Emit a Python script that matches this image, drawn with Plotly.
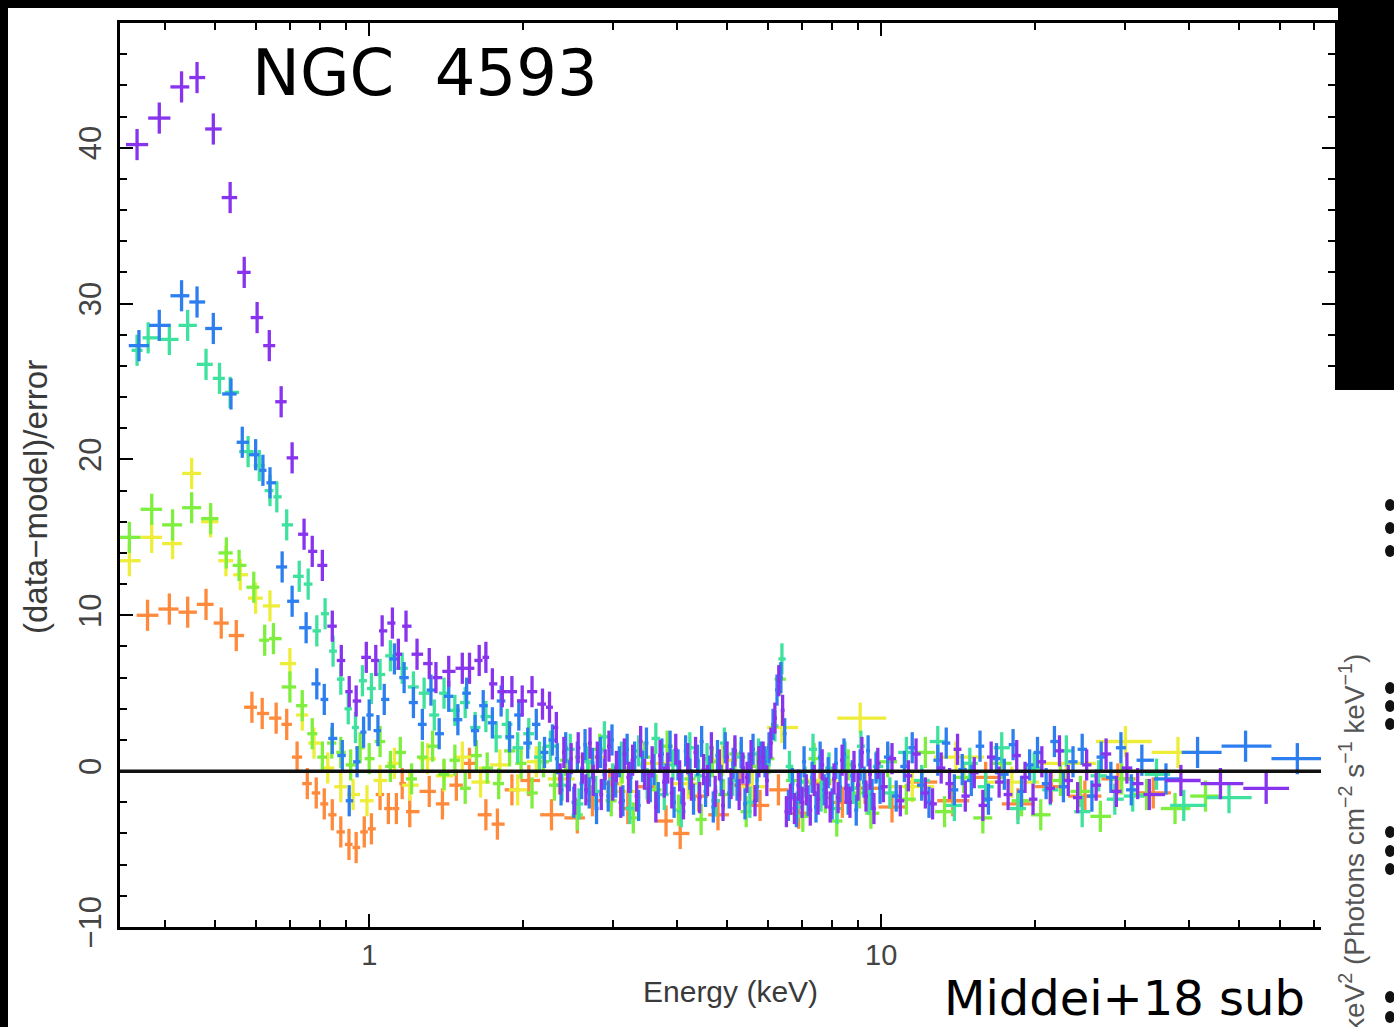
import numpy as np
import plotly.graph_objects as go

# ---------------- data: (data-model)/error residuals vs energy (keV) ----------------
purple_E = [0.352, 0.389, 0.430, 0.461, 0.496, 0.535, 0.570, 0.604, 0.638, 0.673,
            0.707, 0.746, 0.774, 0.810, 0.847, 0.882, 0.914, 0.943, 0.987, 1.03,
            1.06, 1.11, 1.14, 1.18, 1.24, 1.31, 1.35, 1.43, 1.52, 1.57,
            1.64, 1.69, 1.74, 1.82, 1.90, 1.99, 2.08, 2.18, 2.25, 2.32,
            2.36, 2.40, 2.44, 2.48, 2.52, 2.56, 2.61, 2.65, 2.70, 2.74,
            2.79, 2.84, 2.89, 2.94, 2.99, 3.04, 3.10, 3.15, 3.21, 3.27,
            3.33, 3.39, 3.45, 3.51, 3.57, 3.63, 3.70, 3.77, 3.83, 3.90,
            3.97, 4.04, 4.11, 4.19, 4.26, 4.34, 4.42, 4.50, 4.58, 4.66,
            4.74, 4.83, 4.91, 5.00, 5.09, 5.18, 5.28, 5.37, 5.47, 5.57,
            5.67, 5.77, 5.88, 5.98, 6.09, 6.20, 6.31, 6.42, 6.53, 6.65,
            6.77, 6.89, 7.01, 7.14, 7.27, 7.40, 7.53, 7.67, 7.81, 7.95,
            8.09, 8.24, 8.39, 8.54, 8.69, 8.85, 9.01, 9.17, 9.34, 9.51,
            9.68, 9.85, 10.1, 10.5, 10.9, 11.3, 11.7, 12.2, 12.6, 13.1,
            13.6, 14.1, 14.6, 15.2, 15.8, 16.4, 17.0, 17.7, 18.4, 19.1,
            19.8, 20.6, 21.4, 22.3, 23.2, 24.2, 25.2, 26.3, 27.5, 28.8,
            30.2, 31.7, 33.4, 38.5, 46.0, 56.5]
purple_R = [40.2, 41.9, 43.9, 44.5, 41.2, 36.8, 32.0, 29.1, 27.3, 23.7,
            20.1, 15.2, 14.1, 13.2, 9.3, 7.1, 5.1, 4.5, 7.3, 7.1,
            9.0, 9.5, 7.5, 9.3, 7.5, 6.9, 6.0, 6.4, 6.6, 6.6,
            7.1, 7.3, 5.6, 5.1, 5.1, 4.5, 5.1, 4.3, 4.1, 2.8,
            -0.5, 1.2, -1.0, 0.8, -1.8, 1.5, 0.2, -1.2, 1.8, -0.6,
            0.9, -1.5, 0.4, 1.6, -0.9, 0.3, -2.0, 1.1, -0.4, 0.7,
            -1.6, 1.9, -0.2, -1.1, 0.6, -2.3, 1.0, -0.7, 0.2, -1.4,
            1.4, -0.3, -2.1, 0.8, -0.9, 1.2, -1.7, 0.1, -0.6, 1.5,
            -1.3, 0.4, -2.2, 0.9, -0.8, 1.3, -1.5, 0.2, -0.4, 1.0,
            -1.9, 0.6, 0.9, -0.6, 1.8, 3.4, 5.8, 3.9, -2.6, -1.8,
            -2.4, -0.9, -2.0, -1.2, -2.5, -0.6, -1.8, 0.4, -1.4, -2.3,
            -0.5, -1.7, 0.7, -1.1, -2.0, 0.3, -0.9, 1.2, -1.6, -0.2,
            -2.4, 0.5, -1.0, 0.8, -1.9, -0.3, 1.1, -1.4, -2.1, 0.2,
            -0.8, 1.4, -1.6, -0.1, -2.2, 0.9, -0.7, -1.5, 1.0, -0.4,
            -1.8, 0.6, -1.1, 1.3, -0.6, -1.7, 0.4, -0.9, 1.1, -1.3,
            0.2, -0.8, -1.5, -0.6, -0.8, -1.1]

blue_E = [0.355, 0.389, 0.430, 0.461, 0.496, 0.537, 0.565, 0.600, 0.620, 0.640,
          0.676, 0.707, 0.753, 0.790, 0.817, 0.847, 0.886, 0.914, 0.947, 0.975,
          1.00, 1.04, 1.07, 1.12, 1.17, 1.22, 1.27, 1.32, 1.37, 1.43,
          1.49, 1.55, 1.61, 1.67, 1.74, 1.81, 1.88, 1.96, 2.04, 2.12,
          2.20, 2.28,
          2.33, 2.37, 2.42, 2.46, 2.51, 2.55, 2.60, 2.64, 2.69, 2.73,
          2.78, 2.83, 2.88, 2.93, 2.98, 3.03, 3.08, 3.13, 3.19, 3.24,
          3.30, 3.36, 3.42, 3.48, 3.54, 3.60, 3.67, 3.73, 3.80, 3.87,
          3.94, 4.01, 4.08, 4.15, 4.23, 4.30, 4.38, 4.46, 4.54, 4.62,
          4.70, 4.79, 4.87, 4.96, 5.05, 5.14, 5.23, 5.33, 5.42, 5.52,
          5.62, 5.72, 5.83, 5.93, 6.04, 6.15, 6.26, 6.37, 6.48, 6.59,
          6.71, 6.83, 6.95, 7.07, 7.20, 7.33, 7.46, 7.60, 7.74, 7.88,
          8.02, 8.16, 8.31, 8.46, 8.62, 8.78, 8.94, 9.10, 9.26, 9.43,
          9.60, 9.77, 9.95, 10.3, 10.7, 11.1, 11.5, 12.0, 12.4, 12.9,
          13.4, 13.9, 14.4, 15.0, 15.6, 16.2, 16.8, 17.4, 18.1, 18.8,
          19.5, 20.2, 21.0, 21.8, 22.7, 23.7, 24.7, 25.8, 26.9, 28.1,
          29.4, 30.8, 32.3, 36.0, 41.5, 51.5, 65.0]
blue_R = [27.3, 28.6, 30.5, 30.1, 28.4, 24.2, 21.1, 20.3, 19.3, 18.5,
          13.1, 10.9, 9.2, 5.6, 4.6, 2.1, 1.0, -1.9, 0.6, 2.5,
          3.6, 2.6, 4.6, 7.2, 6.0, 4.4, 3.0, 5.2, 2.4, 4.8,
          3.3, 5.0, 2.6, 4.2, 3.1, 4.5, 2.2, 3.6, 1.8, 3.0,
          1.2, 2.0,
          0.8, -1.2, 1.5, -0.3, -2.0, 0.9, -0.8, 1.7, -1.4, 0.5,
          -2.4, 1.2, -0.2, -1.6, 2.0, -0.7, 0.6, -1.9, 1.4, -0.4,
          0.9, -2.2, 0.3, 1.8, -1.0, 0.1, -1.7, 1.1, -0.5, 1.6,
          -2.0, 0.4, -1.1, 1.3, -0.2, -1.8, 0.7, 1.9, -1.3, 0.0,
          -2.3, 1.0, -0.6, 1.5, -1.4, 0.5, -0.9, 1.2, -2.1, 0.2,
          1.4, -1.0, 0.9, 0.6, 1.5, 3.0, 5.2, 6.0, 2.4, -2.2,
          -0.8, -2.6, -1.1, 0.6, -1.9, -0.4, -2.3, 0.9, -1.2, -0.1,
          -2.1, 0.5, -1.0, 1.1, -1.8, -0.3, -2.5, 0.4, -0.7, 1.3,
          -1.5, 0.2, -1.1, 0.9, -1.6, 0.3, 1.5, -0.9, -2.0, 0.7,
          1.8, -1.2, 0.1, -0.6, 1.6, -1.8, 0.8, -0.2, 1.7, -1.3,
          0.4, 1.2, -0.8, 1.9, -1.0, 0.6, 1.4, -1.6, 0.9, -0.4,
          1.5, -1.2, 0.7, -0.5, 1.2, 1.6, 0.8]

teal_E = [0.352, 0.370, 0.407, 0.442, 0.480, 0.510, 0.535, 0.580, 0.610, 0.640,
          0.660, 0.690, 0.730, 0.760, 0.790, 0.820, 0.850, 0.880, 0.910, 0.940,
          0.97, 1.01, 1.05, 1.10, 1.16, 1.22, 1.28, 1.34, 1.40, 1.47,
          1.54, 1.61, 1.69, 1.77, 1.86, 1.95, 2.05, 2.15, 2.26,
          2.38, 2.47, 2.57, 2.67, 2.77, 2.88, 2.99, 3.11, 3.23, 3.36,
          3.49, 3.63, 3.77, 3.92, 4.07, 4.23, 4.40, 4.57, 4.75, 4.94,
          5.13, 5.33, 5.54, 5.76, 5.98, 6.20, 6.40, 6.62, 6.85, 7.10,
          7.36, 7.63, 7.91, 8.20, 8.50, 8.81, 9.13, 9.46, 9.80, 10.4,
          11.2, 12.0, 12.9, 13.9, 14.9, 16.0, 17.2, 18.5, 19.9, 21.4,
          23.0, 24.7, 26.6, 28.6, 31.0, 34.5, 39.0, 47.8]
teal_R = [27.0, 27.8, 27.7, 28.6, 26.1, 25.2, 24.3, 20.5, 19.6, 18.0,
          17.6, 15.8, 12.5, 12.0, 9.0, 10.1, 7.7, 5.9, 4.0, 2.8,
          5.8, 5.3, 6.2, 7.4, 6.6, 5.4, 5.0, 3.6, 5.0, 3.9,
          4.4, 2.8, 3.5, 2.2, 3.0, 1.5, 2.4, 0.9, 1.6,
          -0.9, 1.4, -2.1, 0.6, -1.3, 2.2, -0.5, 0.9, -2.4, 1.3,
          -0.8, 2.1, -1.5, 0.4, -2.6, 1.5, -0.3, 0.8, -1.9, 1.8,
          -0.6, 0.9, -2.0, 1.1, 0.4, 2.9, 7.2, 0.3, -2.3, -0.7,
          1.4, -1.6, 0.2, -2.4, 0.9, -1.1, 1.6, -1.8, 0.3, -1.4,
          1.2, -0.6, 1.9, -2.2, 0.5, -1.0, 1.5, -2.4, 0.2, -1.2,
          1.3, -2.6, -0.3, -1.8, -1.6, -0.2, -2.2, -1.7]

green_E = [0.340, 0.376, 0.413, 0.450, 0.490, 0.526, 0.557, 0.595, 0.625, 0.650,
           0.700, 0.740, 0.774, 0.810, 0.845, 0.880, 0.920, 0.960, 1.00, 1.05,
           1.10, 1.15, 1.21, 1.27, 1.33, 1.40, 1.47, 1.54, 1.62, 1.70,
           1.79, 1.88, 1.98, 2.08, 2.19, 2.30,
           2.42, 2.55, 2.68, 2.82, 2.97, 3.12, 3.28, 3.45, 3.63, 3.82,
           4.02, 4.23, 4.45, 4.68, 4.92, 5.18, 5.45, 5.73, 6.03, 6.35,
           6.68, 7.03, 7.40, 7.78, 8.19, 8.62, 9.07, 9.55, 10.3, 11.2,
           12.2, 13.3, 14.5, 15.8, 17.2, 18.8, 20.5, 22.4, 24.5, 26.8,
           29.5, 33.0, 37.5, 43.0]
green_R = [15.0, 16.8, 15.8, 16.9, 16.2, 14.0, 13.2, 11.8, 8.4, 8.5,
           5.4, 4.2, 2.4, 0.9, 1.8, 1.2, 0.4, 1.5, 0.8, 1.9,
           0.3, 1.2, -0.5, 0.9, 1.6, -0.2, 0.7, -1.1, 1.0, 0.2,
           -0.8, 1.3, 0.5, -1.4, 0.6, -0.9,
           0.7, -2.8, -0.4, 1.4, -1.9, 0.2, -3.0, 0.9, -1.2, 1.6,
           -2.5, -0.5, -3.1, 0.6, -1.5, 1.1, -2.6, 0.3, 0.8, 5.9,
           -0.6, -2.9, 0.8, -1.7, -3.2, 0.4, -1.4, -2.7, 0.6, -1.8,
           1.2, -2.6, -0.4, -3.0, 0.5, -1.9, -2.8, -0.6, -1.3, -2.9,
           -0.5, -1.5, -2.4, -1.6]

yellow_E = [0.340, 0.376, 0.413, 0.450, 0.490, 0.525, 0.560, 0.600, 0.640, 0.700,
            0.740, 0.780, 0.830, 0.880, 0.930, 0.990, 1.05, 1.12, 1.20, 1.30,
            1.40, 1.52, 1.65, 1.80, 1.95, 2.12, 2.35, 2.70, 3.10, 3.60,
            4.20, 4.90, 5.60, 6.40, 7.40, 9.10, 11.5, 14.0, 18.0, 23.0,
            30.0, 38.0]
yellow_R = [13.5, 15.0, 14.6, 19.1, 16.0, 13.5, 12.6, 11.1, 10.6, 6.9,
            3.6, 1.8, 0.2, -1.0, -1.5, -1.9, -0.6, 0.5, -0.9, 0.8,
            -0.3, 0.9, -0.7, 0.4, -1.2, 0.6, -0.5, 0.9, -1.3, 0.5,
            -0.8, 0.7, -1.0, 2.8, -0.6, 3.4, -1.0, 0.9, -0.7, 0.5,
            1.9, 1.2]

orange_E = [0.369, 0.407, 0.442, 0.480, 0.514, 0.550, 0.590, 0.618, 0.658, 0.690,
            0.723, 0.757, 0.788, 0.817, 0.847, 0.880, 0.913, 0.943, 0.978, 1.01,
            1.05, 1.09, 1.13, 1.16, 1.20, 1.31, 1.39, 1.48, 1.57, 1.69,
            1.78, 1.90, 2.05, 2.27, 2.55, 2.73, 2.95, 3.20, 3.50, 3.80,
            4.05, 4.40, 4.80, 5.30, 5.80, 6.30, 6.90, 7.60, 8.40, 9.30,
            10.5, 12.0, 13.8, 16.0, 18.5, 21.5, 25.0, 29.0, 34.0]
orange_R = [10.0, 10.4, 10.2, 10.7, 9.5, 8.7, 4.1, 3.7, 3.4, 3.0,
            0.9, -0.8, -1.4, -2.1, -2.8, -3.9, -4.7, -4.9, -3.9, -3.7,
            -1.5, -2.4, -2.4, -0.8, -2.6, -1.3, -2.1, -0.9, 0.5, -2.8,
            -3.4, -1.2, -0.6, -2.8, -3.0, -1.9, -0.8, -2.4, -1.0, -3.2,
            -4.0, -1.6, -2.8, -0.9, -2.2, -1.2, -2.7, -0.8, -2.0, -1.1,
            -2.3, -0.7, -1.9, -0.4, -2.1, -1.0, -1.6, -0.5, -1.4]

x_tick_vals = [1, 10]
x_tick_text = ["1", "10"]
y_tick_vals = [-10, 0, 10, 20, 30, 40]

# ---------------- helpers ----------------
def bin_errors(E):
    """Energy bin half-widths: bins are contiguous, edges at log-midpoints."""
    E = np.asarray(E, float)
    lg = np.log10(E)
    mid = (lg[:-1] + lg[1:]) / 2
    lo = np.concatenate([[2 * lg[0] - mid[0]], mid])
    hi = np.concatenate([mid, [2 * lg[-1] - mid[-1]]])
    return 10 ** hi - E, E - 10 ** lo

series = [
    ("orange", orange_E, orange_R, "#ff8a3c"),
    ("yellow", yellow_E, yellow_R, "#eded3a"),
    ("green", green_E, green_R, "#7eef3e"),
    ("teal", teal_E, teal_R, "#3ee29e"),
    ("blue", blue_E, blue_R, "#2d7ff0"),
    ("purple", purple_E, purple_R, "#8833ee"),
]

fig = go.Figure()
for name, E, R, col in series:
    plus, minus = bin_errors(E)
    fig.add_trace(go.Scatter(
        x=E, y=R, mode="markers", name=name,
        marker=dict(size=2, color=col),
        error_x=dict(type="data", symmetric=False, array=plus, arrayminus=minus,
                     color=col, thickness=3.3, width=0),
        error_y=dict(type="constant", value=1.0, color=col, thickness=3.3, width=0),
        hoverinfo="skip",
    ))

# pixel -> paper helpers (plot area: x 120..1335, y 23..927)
L, R_, T, B = 120, 1335, 23, 927
def px(x):
    return (x - L) / (R_ - L)
def py(y):
    return (B - y) / (B - T)

minor_x = [m * d for d in (0.1, 1, 10) for m in range(2, 10)]

axis_font = "Liberation Sans, Arial, Helvetica, sans-serif"
fig.update_layout(
    width=1394, height=1027,
    margin=dict(l=L, r=1394 - R_, t=T, b=1027 - B, pad=0),
    paper_bgcolor="black", plot_bgcolor="white",
    showlegend=False,
    font=dict(family=axis_font, color="#3a3a3a"),
    xaxis=dict(
        type="log", range=[np.log10(0.326), np.log10(77)],
        tickmode="array", tickvals=x_tick_vals, ticktext=x_tick_text,
        ticks="inside", ticklen=13, tickwidth=2, tickcolor="black",
        showline=True, linecolor="black", linewidth=2.5, mirror="allticks",
        showgrid=False, zeroline=False,
        tickfont=dict(size=29, color="#444"), ticklabelstandoff=0,
        minor=dict(tickvals=minor_x, ticks="inside", ticklen=7, tickwidth=2,
                   tickcolor="black", showgrid=False),
    ),
    yaxis=dict(
        range=[-10, 48], tickmode="array", tickvals=y_tick_vals,
        ticks="inside", ticklen=13, tickwidth=2, tickcolor="black",
        showline=True, linecolor="black", linewidth=2.5, mirror="allticks",
        showgrid=False, zeroline=False, tickangle=-90,
        tickfont=dict(size=31, color="#444"), ticklabelstandoff=4,
        minor=dict(dtick=2, ticks="inside", ticklen=7, tickwidth=2,
                   tickcolor="black", showgrid=False),
    ),
)

shapes = [
    # white slide panel behind the plot
    dict(type="rect", xref="paper", yref="paper", x0=px(8), x1=px(1338),
         y0=py(1040), y1=py(8), fillcolor="white", line_width=0, layer="below"),
    # model line at zero
    dict(type="line", xref="paper", yref="y", x0=0, x1=1, y0=0, y1=0,
         line=dict(color="#111", width=3.5), layer="above"),
    # neighbouring slide panel overlapping at right
    dict(type="rect", xref="paper", yref="paper", x0=px(1321), x1=px(1400),
         y0=py(1040), y1=py(390), fillcolor="white", line_width=0, layer="above"),
]
for yc in (505, 528, 551, 688, 706, 724, 832, 851, 869, 997, 1017):
    shapes.append(dict(type="circle", xref="paper", yref="paper",
                       x0=px(1385), x1=px(1395), y0=py(yc + 6), y1=py(yc - 6),
                       fillcolor="#111", line_width=0, layer="above"))
fig.update_layout(shapes=shapes)

annotations = [
    dict(text="(data\u2212model)/error", x=px(35), y=py(497), xref="paper", yref="paper",
         xanchor="center", yanchor="middle",
         textangle=-90, showarrow=False, font=dict(size=33, color="#3a3a3a", family=axis_font)),
    dict(text="Energy (keV)", x=px(730), y=py(991), xref="paper", yref="paper",
         xanchor="center", yanchor="middle",
         showarrow=False, font=dict(size=30, color="#3a3a3a", family=axis_font)),
    dict(text="NGC\u00a0\u00a04593", x=px(425), y=py(73), xref="paper", yref="paper",
         xanchor="center", yanchor="middle",
         showarrow=False, font=dict(size=64, color="black", family="DejaVu Sans")),
    dict(text="Middei+18 sub", x=px(942), y=py(998), xref="paper", yref="paper",
         xanchor="left", yanchor="middle", showarrow=False,
         font=dict(size=48, color="black", family="DejaVu Sans")),
    dict(text=" ", x=px(1321), y=py(995), xref="paper", yref="paper", width=52, height=70,
         xanchor="left", yanchor="middle", bgcolor="white", showarrow=False, borderpad=0),
    dict(text="keV<sup>2</sup> (Photons cm<sup>\u22122</sup> s<sup>\u22121</sup> keV<sup>\u22121</sup>)",
         x=px(1352), y=py(652), xref="paper", yref="paper", xanchor="center", yanchor="top",
         textangle=-90, showarrow=False, font=dict(size=28, color="#555", family=axis_font)),
]
fig.update_layout(annotations=annotations)

fig.write_html("out.html")
